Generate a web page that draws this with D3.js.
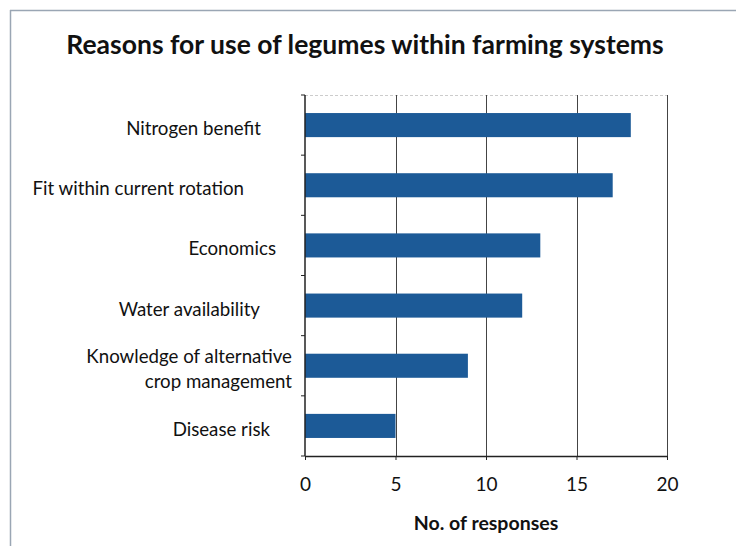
<!DOCTYPE html>
<html><head><meta charset="utf-8">
<script src="https://cdn.jsdelivr.net/npm/d3@7"></script>
<style>
html,body{margin:0;padding:0;background:#fff;}
svg{display:block;font-family:Lato,"Open Sans",sans-serif;}
</style></head>
<body>
<svg id="chart" width="736" height="546"></svg>
<script>
const categories = ["Nitrogen benefit","Fit within current rotation","Economics","Water availability","Knowledge of alternative\ncrop management","Disease risk"];
const values = [18, 17, 13, 12, 9, 5];
const xTicks = [0, 5, 10, 15, 20];
const title = "Reasons for use of legumes within farming systems";
const xTitle = "No. of responses";
// right edge of each category label (layout only)
const labelRight = [261, 244, 276, 260, 292, 270];

const svg = d3.select("#chart");
const W = 736, H = 546;
const m = {left: 305, right: 736-667, top: 95, bottom: 546-456};

// frame
svg.append("line").attr("x1",10.5).attr("x2",10.5).attr("y1",10).attr("y2",H).attr("stroke","#9aa6b4").attr("stroke-width",1.5);
svg.append("line").attr("x1",10).attr("x2",W).attr("y1",10.5).attr("y2",10.5).attr("stroke","#9aa6b4").attr("stroke-width",1.5);

const x = d3.scaleLinear().domain([0,20]).range([m.left, W-m.right]);
const y = d3.scaleBand().domain(categories).range([m.top, H-m.bottom]).paddingInner(0.6).paddingOuter(0.3);

// title
svg.append("text").attr("x",365).attr("y",54).attr("text-anchor","middle")
  .attr("font-size",26.5).attr("font-weight","bold").attr("fill","#111").text(title);

// top faint line
svg.append("line").attr("x1",x(0)).attr("x2",x(20)).attr("y1",m.top+0.5).attr("y2",m.top+0.5)
  .attr("stroke","#ccc").attr("stroke-dasharray","3,2");

// gridlines
svg.append("g").selectAll("line").data(xTicks.slice(1)).join("line")
  .attr("x1",d=>Math.round(x(d))+0.5).attr("x2",d=>Math.round(x(d))+0.5)
  .attr("y1",m.top).attr("y2",H-m.bottom)
  .attr("stroke","#444").attr("stroke-width",1);

// bars
svg.append("g").selectAll("rect").data(values).join("rect")
  .attr("x",x(0)).attr("y",(d,i)=>y(categories[i]))
  .attr("width",d=>x(d)-x(0)).attr("height",y.bandwidth())
  .attr("fill","#1c5a97");

// x axis
const xAxis = d3.axisBottom(x).tickValues(xTicks).tickSize(4).tickPadding(18).tickSizeOuter(0);
const gx = svg.append("g").attr("transform",`translate(0,${H-m.bottom})`).call(xAxis);
gx.select(".domain").attr("stroke","#222").attr("stroke-width",1.5);
gx.selectAll(".tick line").attr("stroke","#222");
gx.selectAll("text").attr("font-size",19).attr("fill","#111").attr("font-family","Lato,sans-serif");

// y axis: line with ticks at band boundaries
const bounds = d3.range(categories.length+1).map(i=>m.top + i*(H-m.bottom-m.top)/categories.length);
svg.append("line").attr("x1",x(0)).attr("x2",x(0)).attr("y1",m.top).attr("y2",H-m.bottom).attr("stroke","#222").attr("stroke-width",1.5);
svg.append("g").selectAll("line").data(bounds).join("line")
  .attr("x1",x(0)-4).attr("x2",x(0)).attr("y1",d=>d).attr("y2",d=>d).attr("stroke","#222");

// category labels
categories.forEach((c,i)=>{
  const lines = c.split("\n");
  const cy = y(c) + y.bandwidth()/2 + 3;
  const lh = 25;
  const t = svg.append("text").attr("text-anchor","end").attr("font-size",18.7).attr("fill","#111");
  lines.forEach((l,j)=>{
    t.append("tspan").attr("x",labelRight[i])
      .attr("y", cy + (j-(lines.length-1)/2)*lh).attr("dominant-baseline","central").text(l);
  });
});

// x title
svg.append("text").attr("x",(x(0)+x(20))/2).attr("y",530).attr("text-anchor","middle")
  .attr("font-size",19.5).attr("font-weight","bold").attr("fill","#111").text(xTitle);
</script>
</body></html>
